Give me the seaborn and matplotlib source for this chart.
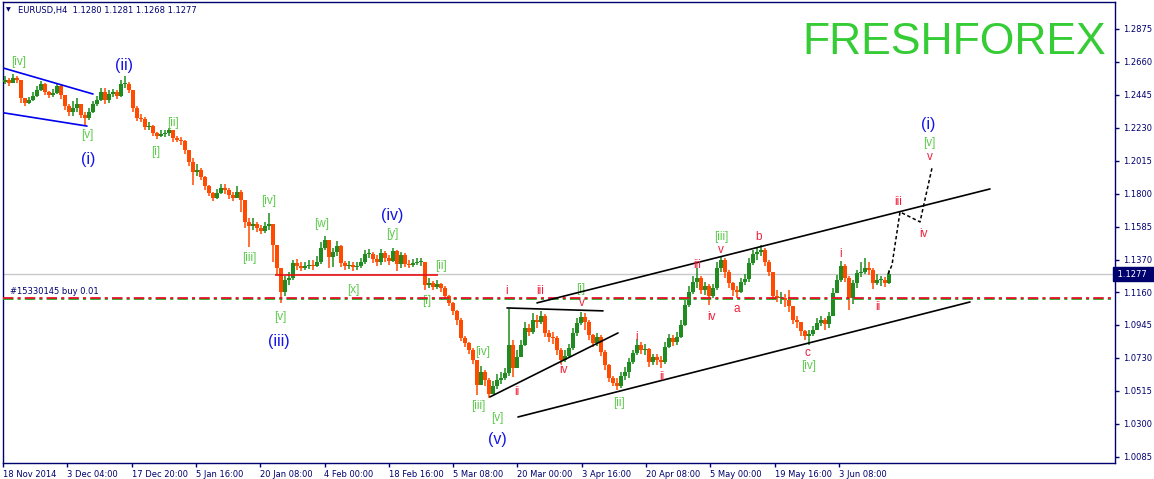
import numpy as np
import pandas as pd
import matplotlib
matplotlib.use("Agg")
import matplotlib.pyplot as plt
import matplotlib.transforms as mtransforms
import seaborn as sns

# EURUSD H4, one candle drawn per 4 bars
first_open = 1.2530
closes = [
    1.2543, 1.2523, 1.2556, 1.2543, 1.2425, 1.2393, 1.2412, 1.2438, 1.2477, 1.2516,
    1.2464, 1.2445, 1.2458, 1.2503, 1.2445, 1.2373, 1.2334, 1.2360, 1.2386, 1.2314,
    1.2294, 1.2334, 1.2386, 1.2412, 1.2464, 1.2412, 1.2451, 1.2464, 1.2438, 1.2516,
    1.2516, 1.2477, 1.2360, 1.2294, 1.2288, 1.2236, 1.2242, 1.2197, 1.2177, 1.2190,
    1.2197, 1.2216, 1.2164, 1.2151, 1.2145, 1.2086, 1.2008, 1.1943, 1.1956, 1.1910,
    1.1851, 1.1806, 1.1773, 1.1806, 1.1838, 1.1825, 1.1793, 1.1773, 1.1812, 1.1760,
    1.1617, 1.1591, 1.1604, 1.1578, 1.1558, 1.1591, 1.1604, 1.1467, 1.1317, 1.1160,
    1.1239, 1.1252, 1.1349, 1.1330, 1.1317, 1.1330, 1.1336, 1.1330, 1.1356, 1.1447,
    1.1499, 1.1388, 1.1421, 1.1460, 1.1349, 1.1330, 1.1336, 1.1323, 1.1330, 1.1356,
    1.1408, 1.1408, 1.1375, 1.1356, 1.1415, 1.1382, 1.1362, 1.1428, 1.1343, 1.1402,
    1.1343, 1.1336, 1.1349, 1.1356, 1.1356, 1.1206, 1.1219, 1.1193, 1.1212, 1.1186,
    1.1134, 1.1089, 1.1037, 1.0978, 1.0860, 1.0828, 1.0782, 1.0717, 1.0554, 1.0639,
    1.0587, 1.0495, 1.0548, 1.0587, 1.0600, 1.0632, 1.0815, 1.0665, 1.0737, 1.0815,
    1.0926, 1.0899, 1.0978, 1.0965, 1.1004, 1.0893, 1.0867, 1.0860, 1.0782, 1.0717,
    1.0743, 1.0795, 1.0893, 1.0958, 1.0997, 1.0965, 1.0880, 1.0828, 1.0867, 1.0769,
    1.0684, 1.0600, 1.0567, 1.0548, 1.0613, 1.0639, 1.0704, 1.0763, 1.0815, 1.0782,
    1.0789, 1.0704, 1.0737, 1.0717, 1.0704, 1.0802, 1.0860, 1.0834, 1.0867, 1.0945,
    1.1076, 1.1160, 1.1226, 1.1252, 1.1173, 1.1199, 1.1134, 1.1186, 1.1317, 1.1369,
    1.1291, 1.1219, 1.1173, 1.1160, 1.1226, 1.1245, 1.1349, 1.1408, 1.1421, 1.1434,
    1.1356, 1.1291, 1.1134, 1.1121, 1.1121, 1.1108, 1.1069, 1.0978, 1.0965, 1.0906,
    1.0873, 1.0886, 1.0913, 1.0958, 1.0978, 1.0952, 1.1004, 1.1154, 1.1239, 1.1330,
    1.1252, 1.1121, 1.1219, 1.1284, 1.1291, 1.1317, 1.1304, 1.1219, 1.1239, 1.1239,
    1.1219, 1.1277,
]
highs = [
    1.2569, 1.2556, 1.2582, 1.2569, 1.2543, 1.2425, 1.2432, 1.2464, 1.2503, 1.2536,
    1.2523, 1.2471, 1.2484, 1.2516, 1.2516, 1.2438, 1.2386, 1.2406, 1.2425, 1.2386,
    1.2334, 1.2360, 1.2406, 1.2438, 1.2490, 1.2490, 1.2477, 1.2484, 1.2477, 1.2543,
    1.2569, 1.2530, 1.2477, 1.2373, 1.2321, 1.2301, 1.2268, 1.2249, 1.2203, 1.2216,
    1.2216, 1.2229, 1.2216, 1.2177, 1.2171, 1.2151, 1.2086, 1.2034, 1.1995, 1.1969,
    1.1917, 1.1858, 1.1812, 1.1832, 1.1864, 1.1864, 1.1838, 1.1812, 1.1851, 1.1825,
    1.1721, 1.1643, 1.1643, 1.1617, 1.1597, 1.1617, 1.1675, 1.1604, 1.1434, 1.1304,
    1.1265, 1.1291, 1.1369, 1.1375, 1.1356, 1.1356, 1.1369, 1.1369, 1.1395, 1.1486,
    1.1525, 1.1486, 1.1447, 1.1493, 1.1467, 1.1362, 1.1362, 1.1356, 1.1356, 1.1382,
    1.1434, 1.1441, 1.1421, 1.1402, 1.1441, 1.1428, 1.1402, 1.1447, 1.1434, 1.1421,
    1.1415, 1.1369, 1.1375, 1.1382, 1.1382, 1.1356, 1.1252, 1.1232, 1.1239, 1.1219,
    1.1199, 1.1141, 1.1095, 1.1043, 1.0991, 1.0873, 1.0834, 1.0795, 1.0717, 1.0678,
    1.0652, 1.0600, 1.0580, 1.0626, 1.0639, 1.0665, 1.1050, 1.0847, 1.0782, 1.0847,
    1.0965, 1.0952, 1.1024, 1.1010, 1.1037, 1.1017, 1.0913, 1.0899, 1.0873, 1.0795,
    1.0782, 1.0821, 1.0926, 1.0991, 1.1030, 1.1024, 1.0978, 1.0886, 1.0893, 1.0880,
    1.0782, 1.0691, 1.0613, 1.0600, 1.0639, 1.0671, 1.0730, 1.0782, 1.0854, 1.0834,
    1.0821, 1.0795, 1.0756, 1.0756, 1.0743, 1.0834, 1.0886, 1.0880, 1.0899, 1.0978,
    1.1108, 1.1199, 1.1265, 1.1317, 1.1265, 1.1226, 1.1212, 1.1212, 1.1356, 1.1395,
    1.1382, 1.1304, 1.1226, 1.1199, 1.1252, 1.1278, 1.1382, 1.1434, 1.1447, 1.1467,
    1.1447, 1.1369, 1.1291, 1.1173, 1.1160, 1.1147, 1.1173, 1.1069, 1.1004, 1.0965,
    1.0913, 1.0913, 1.0939, 1.0991, 1.1004, 1.0991, 1.1030, 1.1186, 1.1271, 1.1362,
    1.1343, 1.1265, 1.1239, 1.1304, 1.1356, 1.1382, 1.1356, 1.1317, 1.1278, 1.1265,
    1.1258, 1.1304,
]
lows = [
    1.2516, 1.2503, 1.2530, 1.2523, 1.2393, 1.2373, 1.2386, 1.2406, 1.2432, 1.2471,
    1.2445, 1.2425, 1.2432, 1.2451, 1.2419, 1.2347, 1.2307, 1.2307, 1.2334, 1.2294,
    1.2249, 1.2281, 1.2327, 1.2373, 1.2406, 1.2386, 1.2393, 1.2432, 1.2419, 1.2432,
    1.2490, 1.2458, 1.2334, 1.2275, 1.2268, 1.2216, 1.2216, 1.2177, 1.2158, 1.2171,
    1.2171, 1.2177, 1.2138, 1.2138, 1.2118, 1.2060, 1.1982, 1.1858, 1.1917, 1.1890,
    1.1825, 1.1786, 1.1754, 1.1767, 1.1799, 1.1799, 1.1767, 1.1754, 1.1773, 1.1682,
    1.1578, 1.1454, 1.1565, 1.1552, 1.1538, 1.1545, 1.1565, 1.1356, 1.1271, 1.1089,
    1.1134, 1.1206, 1.1239, 1.1304, 1.1297, 1.1304, 1.1310, 1.1304, 1.1323, 1.1343,
    1.1434, 1.1317, 1.1323, 1.1395, 1.1323, 1.1304, 1.1310, 1.1297, 1.1304, 1.1317,
    1.1343, 1.1382, 1.1349, 1.1330, 1.1336, 1.1356, 1.1336, 1.1356, 1.1297, 1.1317,
    1.1323, 1.1317, 1.1323, 1.1336, 1.1330, 1.1173, 1.1186, 1.1173, 1.1180, 1.1160,
    1.1115, 1.1069, 1.1010, 1.0945, 1.0841, 1.0802, 1.0756, 1.0691, 1.0489, 1.0587,
    1.0548, 1.0469, 1.0495, 1.0528, 1.0561, 1.0587, 1.0613, 1.0606, 1.0678, 1.0750,
    1.0808, 1.0873, 1.0886, 1.0926, 1.0952, 1.0867, 1.0834, 1.0821, 1.0750, 1.0691,
    1.0704, 1.0730, 1.0782, 1.0873, 1.0945, 1.0913, 1.0847, 1.0802, 1.0808, 1.0743,
    1.0652, 1.0574, 1.0548, 1.0521, 1.0535, 1.0587, 1.0600, 1.0691, 1.0750, 1.0756,
    1.0750, 1.0671, 1.0684, 1.0684, 1.0665, 1.0691, 1.0795, 1.0808, 1.0815, 1.0860,
    1.0939, 1.1063, 1.1147, 1.1186, 1.1147, 1.1141, 1.1076, 1.1121, 1.1173, 1.1291,
    1.1252, 1.1186, 1.1134, 1.1121, 1.1154, 1.1206, 1.1226, 1.1336, 1.1369, 1.1395,
    1.1330, 1.1265, 1.1108, 1.1095, 1.1082, 1.1063, 1.1030, 1.0952, 1.0926, 1.0873,
    1.0847, 1.0815, 1.0873, 1.0913, 1.0939, 1.0913, 1.0926, 1.1004, 1.1160, 1.1226,
    1.1226, 1.1043, 1.1082, 1.1186, 1.1258, 1.1278, 1.1271, 1.1180, 1.1206, 1.1199,
    1.1193, 1.1212,
]

date_labels = ["18 Nov 2014", "3 Dec 04:00", "17 Dec 20:00", "5 Jan 16:00",
               "20 Jan 08:00", "4 Feb 00:00", "18 Feb 16:00", "5 Mar 08:00",
               "20 Mar 00:00", "3 Apr 16:00", "20 Apr 08:00", "5 May 00:00",
               "19 May 16:00", "3 Jun 08:00"]
price_ticks = [1.0085, 1.0300, 1.0515, 1.0730, 1.0945, 1.1160, 1.1370,
               1.1585, 1.1800, 1.2015, 1.2230, 1.2445, 1.2660, 1.2875]

symbol = "EURUSD,H4"
last_ohlc = ["1.1280", "1.1281", "1.1268", "1.1277"]
last_price = 1.1277
order_price = 1.1121
order_text = "#15330145 buy 0.01"

# trend lines drawn on the chart: (bar0, price0, bar1, price1)
blue_lines = [(0, 1.2621, 90, 1.2451), (0, 1.2329, 84, 1.2242)]
black_lines = [(504, 1.1056, 600, 1.1037), (534, 1.1089, 987, 1.1832),
               (487, 1.0476, 615, 1.0893), (515, 1.0345, 967, 1.1095)]
red_level = (272, 435, 1.1271)
forecast_bars = [885, 889, 897, 917, 929]
forecast_prices = [1.1277, 1.1336, 1.1682, 1.1617, 1.1969]

# wave labels: (text, bar, price)
green_labels = [("[iv]", 16, 1.2660), ("[v]", 84, 1.2184), ("[i]", 153, 1.2073),
                ("[ii]", 170, 1.2262), ("[iii]", 246, 1.1382), ("[iv]", 266, 1.1754),
                ("[v]", 277, 1.0997), ("[w]", 319, 1.1604), ("[y]", 389, 1.1538),
                ("[x]", 350, 1.1173), ("[ii]", 438, 1.1330), ("[i]", 424, 1.1102),
                ("[iv]", 480, 1.0769), ("[iii]", 475, 1.0417), ("[v]", 494, 1.0339),
                ("[i]", 578, 1.1180), ("[ii]", 616, 1.0437), ("[iii]", 718, 1.1519),
                ("[iv]", 806, 1.0678), ("[v]", 926, 1.2132)]
blue_labels = [("(ii)", 121, 1.2634), ("(i)", 85, 1.2021), ("(iv)", 389, 1.1662),
               ("(iii)", 276, 1.0834), ("(v)", 494, 1.0196), ("(i)", 925, 1.2249)]
red_labels = [("i", 504, 1.1167), ("iii", 537, 1.1167), ("v", 579, 1.1089),
              ("ii", 514, 1.0508), ("iv", 560, 1.0652), ("i", 634, 1.0867),
              ("ii", 659, 1.0606), ("iii", 694, 1.1336), ("v", 718, 1.1434),
              ("iv", 708, 1.0997), ("b", 756, 1.1519), ("a", 734, 1.1050),
              ("c", 804, 1.0763), ("i", 838, 1.1408), ("ii", 875, 1.1063),
              ("iii", 895, 1.1747), ("iv", 920, 1.1538), ("v", 927, 1.2041)]

NAVY = "#00006E"


def main():
    sns.set_style("white")
    plt.rcParams["font.family"] = ["DejaVu Sans"]
    plt.rcParams["lines.scale_dashes"] = False

    W, H = 1154, 479
    fig = plt.figure(figsize=(W / 100, H / 100), dpi=100)
    ax = fig.add_axes([3 / W, 16 / H, 1112 / W, 461 / H])

    opens = [first_open] + closes[:-1]
    df = pd.DataFrame({"open": opens, "high": highs, "low": lows, "close": closes})
    df["bar"] = np.arange(len(df)) * 4 + 2
    df["top"] = df[["open", "close", "high"]].max(axis=1)
    df["bot"] = df[["open", "close", "low"]].min(axis=1)
    up = df["close"] >= df["open"]
    colors = np.where(up, "#1E8C1E", "#FF4A00")

    ax.vlines(df["bar"], df["bot"], df["top"], colors=colors, lw=1.1, zorder=3)
    body = (df["close"] - df["open"]).abs().clip(lower=0.0004)
    ax.bar(df["bar"], body, bottom=df[["open", "close"]].min(axis=1), width=3.6,
           color=colors, linewidth=0, zorder=3)

    # current price and order lines
    ax.axhline(last_price, color="#C8C8C8", lw=1, zorder=1)
    ax.axhline(order_price - 0.0008, color="#22AA22", lw=1.3,
               ls=(0, (7.5, 3, 2.2, 3)), zorder=4)
    ax.axhline(order_price, color="#E8102A", lw=1.3,
               ls=(0, (7.5, 3, 2.2, 3)), zorder=4)
    ax.text(7, order_price + 0.0016, order_text, fontsize=6, color=NAVY,
            ha="left", va="bottom", zorder=5)
    ax.hlines(red_level[2], red_level[0], red_level[1], color="#E81010", lw=1.2, zorder=4)

    for x0, p0, x1, p1 in blue_lines:
        seg = pd.DataFrame({"bar": [x0, x1], "price": [p0, p1]})
        sns.lineplot(data=seg, x="bar", y="price", ax=ax, color="#0000EE", lw=1.2,
                     estimator=None, sort=False, legend=False, zorder=4)
    for x0, p0, x1, p1 in black_lines:
        seg = pd.DataFrame({"bar": [x0, x1], "price": [p0, p1]})
        sns.lineplot(data=seg, x="bar", y="price", ax=ax, color="black", lw=1.2,
                     estimator=None, sort=False, legend=False, zorder=4)
    fc = pd.DataFrame({"bar": forecast_bars, "price": forecast_prices})
    sns.lineplot(data=fc, x="bar", y="price", ax=ax, color="black", lw=1.1,
                 linestyle=(0, (2.5, 1.8)), estimator=None, sort=False,
                 legend=False, zorder=4)

    for txt, b, p in green_labels:
        ax.text(b, p, txt, fontsize=8.5, color="#5CCB4C", ha="center", va="center",
                family="Liberation Sans", zorder=3.5)
    for txt, b, p in blue_labels:
        ax.text(b, p, txt, fontsize=11.5, color="#1414E6", ha="center", va="center",
                family="Liberation Sans", zorder=5)
    for txt, b, p in red_labels:
        ax.text(b, p, txt, fontsize=8.5, color="#F0203C", ha="center", va="center",
                family="Liberation Sans", zorder=5)

    ax.set_xlim(0, 1112)
    ax.set_ylim(1.0045, 1.3051)
    ax.set_xlabel("")
    ax.set_ylabel("")

    ax.set_xticks(np.arange(len(date_labels)) * 64.3)
    ax.set_xticklabels(date_labels, ha="left")
    ax.set_yticks(price_ticks)
    ax.set_yticklabels([f"{v:.4f}" for v in price_ticks])
    ax.yaxis.tick_right()
    ax.tick_params(axis="y", right=True, left=False, labelright=True, labelleft=False,
                   length=3, width=1, color=NAVY, labelcolor=NAVY, labelsize=6, pad=3)
    ax.tick_params(axis="x", bottom=True, length=3, width=1, color=NAVY,
                   labelcolor=NAVY, labelsize=6, pad=2)
    for s in ax.spines.values():
        s.set_color(NAVY)
        s.set_linewidth(1)
        s.set_visible(True)

    # current price tag on the scale
    trans = mtransforms.blended_transform_factory(ax.transAxes, ax.transData)
    ax.text(1.0, last_price, f" {last_price:.4f}  ", transform=trans, fontsize=6,
            color="white", ha="left", va="center", clip_on=False,
            bbox=dict(boxstyle="square,pad=0.25", fc=NAVY, ec=NAVY))

    fig.text(6 / W, 1 - 10 / H, "\u25BC", fontsize=4.5, color=NAVY, va="center")
    fig.text(18 / W, 1 - 10 / H, symbol + "  " + " ".join(last_ohlc), fontsize=6,
             color=NAVY, va="center")
    fig.text(1106 / W, 1 - 42 / H, "FRESHFOREX", fontsize=32, color="#36CC36",
             ha="right", va="center", family="Liberation Sans")

    fig.savefig("out.png", dpi=100)


if __name__ == "__main__":
    main()
